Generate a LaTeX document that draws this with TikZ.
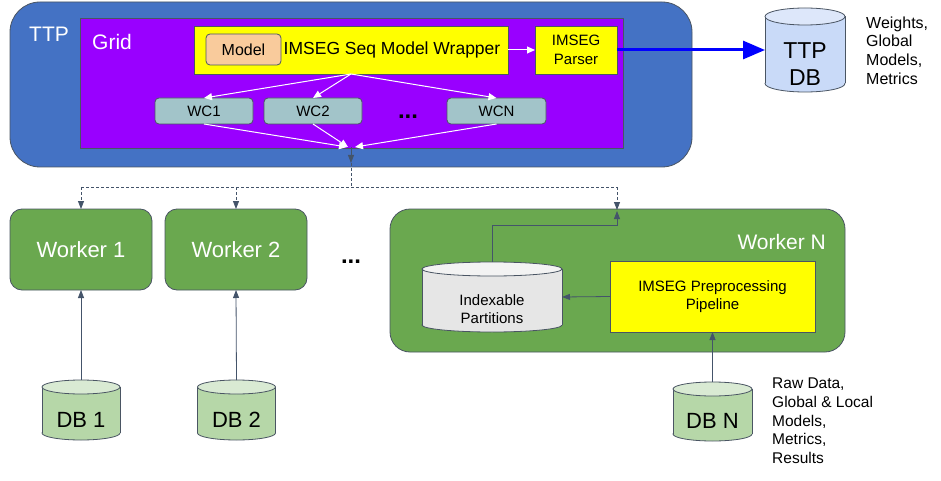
\documentclass[tikz,border=0pt]{standalone}
\usepackage{fontspec}
\setmainfont{Liberation Sans}
\usetikzlibrary{arrows.meta}
\definecolor{ttpblue}{HTML}{4472C4}
\definecolor{gridpurple}{HTML}{9900FF}
\definecolor{yel}{HTML}{FFFF00}
\definecolor{modelfill}{HTML}{F9CB9C}
\definecolor{wcfill}{HTML}{A2C4C9}
\definecolor{wgreen}{HTML}{6AA84F}
\definecolor{dbgreen}{HTML}{B6D7A8}
\definecolor{dbgreentop}{HTML}{D9EAD3}
\definecolor{dbblue}{HTML}{C9DAF8}
\definecolor{dbbluetop}{HTML}{DDE7FA}
\definecolor{idxgray}{HTML}{E6E6E6}
\definecolor{idxtop}{HTML}{F3F3F3}
\definecolor{bord}{HTML}{4A5563}
\definecolor{conn}{HTML}{44546A}
\newcommand{\fs}[2]{\fontsize{#1}{#2}\selectfont}
% cylinder: cx cy w h ry bodyfill topfill
\newcommand{\cylshape}[7]{%
  \fill[#6, draw=bord, line width=0.8pt] (#1, #2+#4/2-#5) ellipse [x radius=#3/2, y radius=#5];
  \fill[#6] (#1-#3/2, #2-#4/2+#5) rectangle (#1+#3/2, #2+#4/2-#5);
  \draw[bord, line width=0.8pt] (#1-#3/2, #2-#4/2+#5) -- (#1-#3/2, #2+#4/2-#5)
        (#1+#3/2, #2-#4/2+#5) -- (#1+#3/2, #2+#4/2-#5);
  \filldraw[fill=#7, draw=bord, line width=0.8pt] (#1, #2-#4/2+#5) ellipse [x radius=#3/2, y radius=#5];
}
\tikzset{
  box/.style={draw=bord, line width=0.8pt, inner sep=0pt, outer sep=0pt, align=center},
  wc/.style={box, rounded corners=4pt, fill=wcfill, minimum width=98pt, minimum height=26pt, font=\fs{15}{18}},
  worker/.style={box, rounded corners=12pt, fill=wgreen, text=white, minimum width=142pt, minimum height=81pt, font=\fs{22}{26}},
  dbnode/.style={inner sep=0pt, outer sep=0pt},
  dbtext/.style={inner sep=0pt, align=center},
  warrow/.style={draw=white, line width=1pt, -{Triangle[width=7pt,length=8pt]}},
  darrow/.style={draw=conn, line width=0.8pt, -{Triangle[width=6pt,length=8pt]}},
  dashline/.style={draw=conn, line width=0.8pt, dash pattern=on 3pt off 2pt},
  dots/.style={font=\fs{24}{28}\bfseries, inner sep=0pt},
  note/.style={align=left, anchor=north west, inner sep=0pt, text=black}
}
\begin{document}
\begin{tikzpicture}[x=1pt,y=-1pt]
\useasboundingbox (0,0) rectangle (941,481);
\fill[white] (0,0) rectangle (941,481);
% TTP
\node[box, rounded corners=30pt, fill=ttpblue, minimum width=682pt, minimum height=165pt] (ttp) at (351,84.5) {};
\node[text=white, font=\fs{21}{25}, anchor=base west, inner sep=0pt] (ttplabel) at (29,42) {TTP};
% Grid
\node[box, fill=gridpurple, minimum width=543pt, minimum height=130pt] (grid) at (351.5,83) {};
\node[text=white, font=\fs{21}{25}, anchor=base west, inner sep=0pt] (gridlabel) at (92,50) {Grid};
% Wrapper
\node[box, fill=yel, minimum width=314pt, minimum height=48pt] (wrap) at (351,50) {};
\node[box, rounded corners=4pt, fill=modelfill, minimum width=75pt, minimum height=31pt, font=\fs{16}{19}] (model) at (243.5,49.5) {Model};
\node[inner sep=0pt, font=\fs{17.5}{21}] (wraplabel) at (392,50) {IMSEG Seq Model Wrapper};
\node[box, fill=yel, minimum width=82pt, minimum height=48pt, font=\fs{15}{19}] (parser) at (576,50) {IMSEG\\Parser};
% TTP DB
\cylshape{805}{50}{80}{84}{8.5}{dbblue}{dbbluetop}
\node[dbnode, minimum width=80pt, minimum height=84pt] (ttpdb) at (805,50) {};
\node[dbtext, font=\fs{23}{27}] (ttpdbtext) at (805,64) {TTP\\DB};
\node[note, font=\fs{16}{18.7}] (ttpnote) at (866,16.5) {Weights,\\Global\\Models,\\Metrics};
% WC boxes
\node[wc] (wc1) at (204,111) {WC1};
\node[wc] (wc2) at (313,111) {WC2};
\node[wc, minimum width=99pt] (wcn) at (496.5,111) {WCN};
\node[dots] (dotsgrid) at (408,117) {...};
% arrows in grid
\coordinate (conv) at (351,147);
\draw[warrow] (wrap.east) -- (parser.west);
\draw[warrow] (wrap.south) -- (wc1.north);
\draw[warrow] (wrap.south) -- (wc2.north);
\draw[warrow] (wrap.south) -- (wcn.north);
\draw[warrow] (wc1.south) -- ([xshift=-4pt]conv);
\draw[warrow] (wc2.south) -- ([xshift=-3pt]conv);
\draw[warrow] (wcn.south) -- ([xshift=4pt]conv);
% blue arrow
\draw[draw=blue, line width=3pt, -{Triangle[width=18pt,length=22pt]}] (parser.east) -- (ttpdb.west);
% workers
\node[worker] (w1) at (81,249.5) {Worker 1};
\node[worker] (w2) at (236,249.5) {Worker 2};
\node[dots] (dotsw) at (351,262) {...};
\node[box, rounded corners=20pt, fill=wgreen, minimum width=455pt, minimum height=143pt] (wn) at (617.5,280.5) {};
\node[text=white, font=\fs{21}{25}, anchor=base east, inner sep=0pt] (wnlabel) at (826,249) {Worker N};
\cylshape{492}{297}{140}{70}{7}{idxgray}{idxtop}
\node[dbnode, minimum width=140pt, minimum height=70pt] (idx) at (492,297) {};
\node[dbtext, font=\fs{15}{18.5}] (idxtext) at (492,309) {Indexable\\Partitions};
\node[box, fill=yel, minimum width=205pt, minimum height=71pt, font=\fs{15}{18.5}] (pipe) at (712.5,296.5) {IMSEG Preprocessing\\Pipeline};
\draw[darrow] (pipe.west) -- (idx.east);
\coordinate (wntop) at (617,209);
\coordinate (wntopin) at (617,211);
\draw[darrow] (idx.north) |- (617,225) -- (wntopin);
% dashed distribution
\coordinate (split) at (351,187);
\coordinate (gridout) at (351,163);
\draw[darrow] (conv) -- (gridout);
\draw[dashline] (gridout) -- (split);
\draw[dashline] (81,187) -- (617,187);
\draw[dashline, -{Triangle[width=6pt,length=8pt]}] (81,187) -- (w1.north);
\draw[dashline, -{Triangle[width=6pt,length=8pt]}] (236,187) -- (w2.north);
\draw[dashline, -{Triangle[width=6pt,length=8pt]}] (617,187) -- ([yshift=-1pt]wntop);
% DBs
\cylshape{81}{410}{78}{60}{7}{dbgreen}{dbgreentop}
\node[dbnode, minimum width=78pt, minimum height=60pt] (db1) at (81,410) {};
\node[dbtext, font=\fs{22}{26}] (db1text) at (81,420) {DB 1};
\cylshape{236.5}{410}{78}{60}{7}{dbgreen}{dbgreentop}
\node[dbnode, minimum width=78pt, minimum height=60pt] (db2) at (236.5,410) {};
\node[dbtext, font=\fs{22}{26}] (db2text) at (236.5,420) {DB 2};
\cylshape{712.5}{411.5}{79}{59}{7}{dbgreen}{dbgreentop}
\node[dbnode, minimum width=79pt, minimum height=59pt] (dbn) at (712.5,411.5) {};
\node[dbtext, font=\fs{22}{26}] (dbntext) at (712.5,421) {DB N};
\draw[darrow] (db1.north) -- (w1.south);
\draw[darrow] (db2.north) -- (w2.south);
\draw[darrow] (dbn.north) -- (pipe.south);
\node[note, font=\fs{15.5}{18.6}] (dbnote) at (772,378) {Raw Data,\\Global \& Local\\Models,\\Metrics,\\Results};
\end{tikzpicture}
\end{document}
